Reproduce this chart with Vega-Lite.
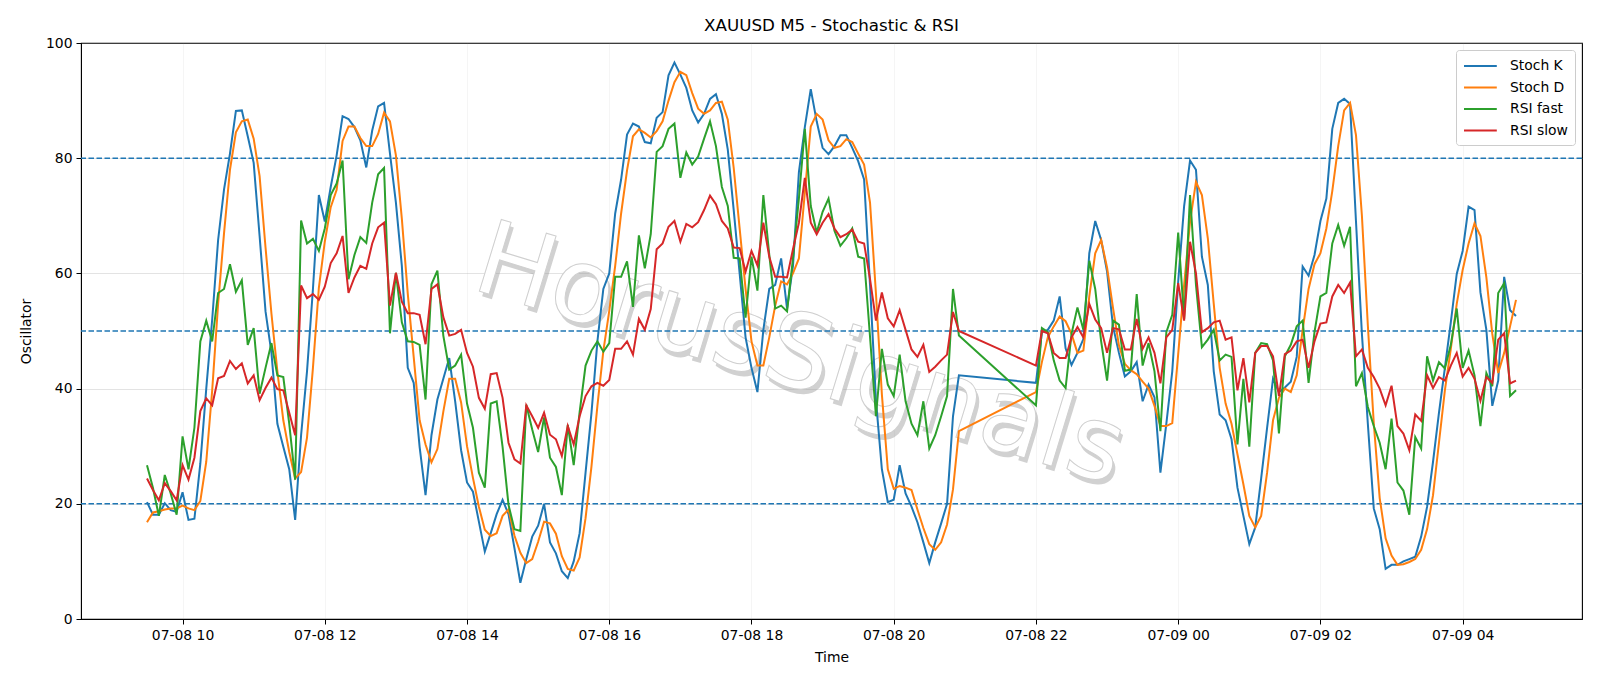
{
  "$schema": "https://vega.github.io/schema/vega-lite/v6.json",
  "width": 1501,
  "height": 576,
  "autosize": {"type": "none"},
  "padding": {"left": 81, "top": 43, "right": 18, "bottom": 67},
  "title": {"text": "XAUUSD M5 - Stochastic & RSI", "fontSize": 16.7, "font": "DejaVu Sans", "fontWeight": "normal", "color": "black", "anchor": "middle", "offset": 1},
  "config": {
    "font": "DejaVu Sans",
    "view": {"stroke": "black", "strokeWidth": 1.1},
    "axis": {"labelFontSize": 13.9, "titleFontSize": 13.9, "labelColor": "black", "titleColor": "black", "titleFontWeight": "normal", "domainColor": "black", "tickColor": "black", "tickSize": 5, "gridColor": "#b0b0b0", "gridOpacity": 0.35, "labelPadding": 4}
  },
  "datasets": {
    "osc": [
      {"t":"2025-07-08T09:30","K":20.3,"D":16.8,"F":26.7,"S":24.4},
      {"t":"2025-07-08T09:35","K":18.1,"D":18.5,"F":22.8,"S":22.4},
      {"t":"2025-07-08T09:40","K":18.1,"D":18.7,"F":17.9,"S":20.6},
      {"t":"2025-07-08T09:45","K":20.1,"D":19.0,"F":25.0,"S":23.6},
      {"t":"2025-07-08T09:50","K":18.9,"D":19.2,"F":21.8,"S":22.2},
      {"t":"2025-07-08T09:55","K":18.6,"D":19.2,"F":18.1,"S":20.6},
      {"t":"2025-07-08T10:00","K":22.0,"D":19.7,"F":31.7,"S":26.7},
      {"t":"2025-07-08T10:05","K":17.2,"D":19.2,"F":26.0,"S":24.2},
      {"t":"2025-07-08T10:10","K":17.4,"D":18.9,"F":33.2,"S":28.0},
      {"t":"2025-07-08T10:15","K":27.0,"D":20.5,"F":48.2,"S":36.1},
      {"t":"2025-07-08T10:20","K":40.0,"D":27.3,"F":51.8,"S":38.3},
      {"t":"2025-07-08T10:25","K":52.0,"D":39.7,"F":48.2,"S":37.1},
      {"t":"2025-07-08T10:30","K":65.8,"D":54.7,"F":56.6,"S":41.8},
      {"t":"2025-07-08T10:35","K":74.6,"D":67.0,"F":57.3,"S":42.2},
      {"t":"2025-07-08T10:40","K":80.8,"D":78.0,"F":61.6,"S":44.8},
      {"t":"2025-07-08T10:45","K":88.2,"D":84.5,"F":56.8,"S":43.4},
      {"t":"2025-07-08T10:50","K":88.3,"D":86.4,"F":58.8,"S":44.4},
      {"t":"2025-07-08T10:55","K":83.8,"D":86.7,"F":47.6,"S":40.9},
      {"t":"2025-07-08T11:00","K":79.2,"D":83.4,"F":50.5,"S":42.3},
      {"t":"2025-07-08T11:05","K":66.5,"D":76.9,"F":39.1,"S":38.0},
      {"t":"2025-07-08T11:10","K":53.4,"D":64.5,"F":43.6,"S":40.1},
      {"t":"2025-07-08T11:15","K":46.2,"D":53.0,"F":47.9,"S":41.9},
      {"t":"2025-07-08T11:20","K":33.9,"D":43.0,"F":42.3,"S":39.9},
      {"t":"2025-07-08T11:25","K":29.9,"D":34.5,"F":42.0,"S":39.7},
      {"t":"2025-07-08T11:30","K":26.0,"D":29.0,"F":33.9,"S":35.8},
      {"t":"2025-07-08T11:35","K":17.2,"D":24.4,"F":24.2,"S":31.9},
      {"t":"2025-07-08T11:40","K":31.9,"D":25.5,"F":69.2,"S":57.9},
      {"t":"2025-07-08T11:45","K":43.0,"D":31.5,"F":65.2,"S":55.7},
      {"t":"2025-07-08T11:50","K":57.3,"D":43.6,"F":66.0,"S":56.4},
      {"t":"2025-07-08T11:55","K":73.6,"D":57.5,"F":63.9,"S":55.4},
      {"t":"2025-07-08T12:00","K":69.0,"D":65.5,"F":67.8,"S":57.7},
      {"t":"2025-07-08T12:05","K":75.0,"D":71.5,"F":73.6,"S":61.8},
      {"t":"2025-07-08T12:10","K":80.5,"D":74.5,"F":75.6,"S":63.5},
      {"t":"2025-07-08T12:15","K":87.3,"D":83.0,"F":79.6,"S":66.5},
      {"t":"2025-07-08T12:20","K":86.8,"D":85.5,"F":59.0,"S":56.6},
      {"t":"2025-07-08T12:25","K":85.4,"D":85.5,"F":63.2,"S":59.3},
      {"t":"2025-07-08T12:30","K":83.1,"D":83.5,"F":66.3,"S":61.3},
      {"t":"2025-07-08T12:35","K":78.4,"D":82.1,"F":65.3,"S":60.8},
      {"t":"2025-07-08T12:40","K":84.8,"D":82.1,"F":72.3,"S":65.2},
      {"t":"2025-07-08T12:45","K":89.0,"D":84.2,"F":77.2,"S":68.0},
      {"t":"2025-07-08T12:50","K":89.6,"D":87.9,"F":78.3,"S":68.8},
      {"t":"2025-07-08T12:55","K":80.8,"D":86.4,"F":49.6,"S":54.4},
      {"t":"2025-07-08T13:00","K":72.3,"D":80.5,"F":60.1,"S":60.1},
      {"t":"2025-07-08T13:05","K":61.3,"D":69.5,"F":51.5,"S":55.1},
      {"t":"2025-07-08T13:10","K":43.6,"D":56.5,"F":48.2,"S":53.1},
      {"t":"2025-07-08T13:15","K":41.0,"D":45.5,"F":48.1,"S":53.1},
      {"t":"2025-07-08T13:20","K":29.9,"D":34.5,"F":47.6,"S":52.8},
      {"t":"2025-07-08T13:25","K":21.5,"D":30.3,"F":38.1,"S":47.7},
      {"t":"2025-07-08T13:30","K":31.9,"D":27.2,"F":58.1,"S":57.3},
      {"t":"2025-07-08T13:35","K":38.1,"D":29.5,"F":60.5,"S":58.1},
      {"t":"2025-07-08T13:40","K":41.7,"D":36.0,"F":49.2,"S":52.4},
      {"t":"2025-07-08T13:45","K":45.3,"D":41.7,"F":43.3,"S":49.2},
      {"t":"2025-07-08T13:50","K":37.8,"D":41.7,"F":44.0,"S":49.5},
      {"t":"2025-07-08T13:55","K":29.3,"D":37.6,"F":45.9,"S":50.2},
      {"t":"2025-07-08T14:00","K":23.7,"D":30.0,"F":37.4,"S":46.2},
      {"t":"2025-07-08T14:05","K":22.1,"D":24.5,"F":33.2,"S":43.8},
      {"t":"2025-07-08T14:10","K":16.9,"D":19.5,"F":25.4,"S":38.4},
      {"t":"2025-07-08T14:15","K":11.7,"D":15.5,"F":22.8,"S":36.5},
      {"t":"2025-07-08T14:20","K":14.9,"D":14.4,"F":37.4,"S":42.5},
      {"t":"2025-07-08T14:25","K":18.2,"D":14.9,"F":37.8,"S":42.7},
      {"t":"2025-07-08T14:30","K":20.7,"D":17.9,"F":29.9,"S":38.4},
      {"t":"2025-07-08T14:35","K":18.2,"D":19.0,"F":19.8,"S":30.6},
      {"t":"2025-07-08T14:40","K":12.3,"D":14.5,"F":15.6,"S":27.7},
      {"t":"2025-07-08T14:45","K":6.3,"D":11.5,"F":15.3,"S":27.0},
      {"t":"2025-07-08T14:50","K":10.4,"D":9.7,"F":37.2,"S":37.1},
      {"t":"2025-07-08T14:55","K":14.3,"D":10.4,"F":32.9,"S":35.2},
      {"t":"2025-07-08T15:00","K":16.2,"D":13.4,"F":29.0,"S":33.2},
      {"t":"2025-07-08T15:05","K":20.0,"D":16.9,"F":35.0,"S":35.8},
      {"t":"2025-07-08T15:10","K":13.3,"D":16.6,"F":28.0,"S":32.0},
      {"t":"2025-07-08T15:15","K":11.4,"D":14.8,"F":26.4,"S":31.2},
      {"t":"2025-07-08T15:20","K":8.3,"D":10.9,"F":21.5,"S":28.3},
      {"t":"2025-07-08T15:25","K":7.1,"D":8.7,"F":33.7,"S":33.5},
      {"t":"2025-07-08T15:30","K":10.0,"D":8.4,"F":26.7,"S":30.3},
      {"t":"2025-07-08T15:35","K":14.9,"D":10.7,"F":35.9,"S":35.2},
      {"t":"2025-07-08T15:40","K":25.4,"D":17.5,"F":44.0,"S":38.7},
      {"t":"2025-07-08T15:45","K":35.8,"D":26.5,"F":46.6,"S":40.4},
      {"t":"2025-07-08T15:50","K":48.2,"D":37.0,"F":48.2,"S":41.0},
      {"t":"2025-07-08T15:55","K":57.3,"D":46.5,"F":46.4,"S":40.5},
      {"t":"2025-07-08T16:00","K":60.0,"D":53.5,"F":47.9,"S":41.5},
      {"t":"2025-07-08T16:05","K":70.4,"D":61.3,"F":59.4,"S":46.9},
      {"t":"2025-07-08T16:10","K":76.3,"D":70.4,"F":59.4,"S":46.9},
      {"t":"2025-07-08T16:15","K":84.1,"D":77.9,"F":62.1,"S":48.2},
      {"t":"2025-07-08T16:20","K":86.0,"D":83.8,"F":54.2,"S":45.9},
      {"t":"2025-07-08T16:25","K":85.5,"D":85.0,"F":66.6,"S":52.1},
      {"t":"2025-07-08T16:30","K":82.8,"D":84.4,"F":60.9,"S":50.2},
      {"t":"2025-07-08T16:35","K":82.6,"D":83.6,"F":66.8,"S":53.8},
      {"t":"2025-07-08T16:40","K":87.0,"D":84.7,"F":81.1,"S":64.2},
      {"t":"2025-07-08T16:45","K":88.0,"D":86.4,"F":82.1,"S":65.2},
      {"t":"2025-07-08T16:50","K":94.4,"D":90.0,"F":85.1,"S":68.1},
      {"t":"2025-07-08T16:55","K":96.6,"D":93.2,"F":86.0,"S":69.1},
      {"t":"2025-07-08T17:00","K":94.5,"D":95.0,"F":76.6,"S":65.5},
      {"t":"2025-07-08T17:05","K":92.2,"D":94.4,"F":81.0,"S":68.6},
      {"t":"2025-07-08T17:10","K":88.3,"D":91.3,"F":78.9,"S":68.0},
      {"t":"2025-07-08T17:15","K":86.2,"D":88.6,"F":80.3,"S":68.9},
      {"t":"2025-07-08T17:20","K":87.7,"D":87.7,"F":83.4,"S":71.0},
      {"t":"2025-07-08T17:25","K":90.3,"D":88.3,"F":86.4,"S":73.5},
      {"t":"2025-07-08T17:30","K":91.1,"D":89.6,"F":82.1,"S":72.0},
      {"t":"2025-07-08T17:35","K":87.7,"D":89.8,"F":75.0,"S":69.1},
      {"t":"2025-07-08T17:40","K":81.5,"D":86.7,"F":71.7,"S":67.8},
      {"t":"2025-07-08T17:45","K":71.0,"D":78.3,"F":62.7,"S":64.5},
      {"t":"2025-07-08T17:50","K":60.0,"D":67.8,"F":62.6,"S":64.4},
      {"t":"2025-07-08T17:55","K":48.9,"D":57.3,"F":52.3,"S":60.3},
      {"t":"2025-07-08T18:00","K":43.6,"D":48.2,"F":62.9,"S":63.9},
      {"t":"2025-07-08T18:05","K":39.4,"D":44.0,"F":57.0,"S":61.4},
      {"t":"2025-07-08T18:10","K":50.2,"D":44.0,"F":73.6,"S":68.8},
      {"t":"2025-07-08T18:15","K":57.3,"D":48.9,"F":63.2,"S":62.9},
      {"t":"2025-07-08T18:20","K":58.0,"D":54.4,"F":53.9,"S":59.4},
      {"t":"2025-07-08T18:25","K":62.6,"D":58.6,"F":54.4,"S":59.4},
      {"t":"2025-07-08T18:30","K":53.9,"D":58.1,"F":53.4,"S":59.3},
      {"t":"2025-07-08T18:35","K":61.3,"D":60.0,"F":62.6,"S":64.2},
      {"t":"2025-07-08T18:40","K":77.6,"D":62.6,"F":73.0,"S":68.8},
      {"t":"2025-07-08T18:45","K":85.4,"D":74.0,"F":85.1,"S":76.6},
      {"t":"2025-07-08T18:50","K":92.0,"D":85.5,"F":71.7,"S":68.8},
      {"t":"2025-07-08T18:55","K":86.4,"D":87.7,"F":67.1,"S":66.8},
      {"t":"2025-07-08T19:00","K":81.8,"D":86.7,"F":70.7,"S":68.8},
      {"t":"2025-07-08T19:05","K":80.7,"D":83.1,"F":73.0,"S":70.3},
      {"t":"2025-07-08T19:10","K":82.1,"D":81.8,"F":67.4,"S":67.8},
      {"t":"2025-07-08T19:15","K":84.0,"D":82.1,"F":64.8,"S":66.3},
      {"t":"2025-07-08T19:20","K":84.0,"D":83.3,"F":66.1,"S":66.8},
      {"t":"2025-07-08T19:25","K":81.8,"D":82.8,"F":67.8,"S":67.6},
      {"t":"2025-07-08T19:30","K":79.5,"D":80.8,"F":62.9,"S":65.5},
      {"t":"2025-07-08T19:35","K":76.3,"D":78.9,"F":62.6,"S":65.2},
      {"t":"2025-07-08T19:40","K":58.0,"D":72.3,"F":49.0,"S":59.0},
      {"t":"2025-07-08T19:45","K":38.0,"D":56.5,"F":35.2,"S":51.8},
      {"t":"2025-07-08T19:50","K":26.0,"D":39.0,"F":46.9,"S":56.7},
      {"t":"2025-07-08T19:55","K":20.3,"D":26.0,"F":40.7,"S":52.2},
      {"t":"2025-07-08T20:00","K":20.7,"D":22.6,"F":38.7,"S":50.8},
      {"t":"2025-07-08T20:05","K":26.7,"D":23.1,"F":45.9,"S":53.6},
      {"t":"2025-07-08T20:10","K":21.8,"D":22.8,"F":37.8,"S":50.2},
      {"t":"2025-07-08T20:15","K":19.5,"D":22.4,"F":33.9,"S":46.8},
      {"t":"2025-07-08T20:20","K":16.8,"D":19.0,"F":31.9,"S":45.5},
      {"t":"2025-07-08T20:25","K":13.3,"D":15.8,"F":37.8,"S":47.6},
      {"t":"2025-07-08T20:30","K":9.7,"D":13.0,"F":29.6,"S":42.9},
      {"t":"2025-07-08T20:35","K":13.3,"D":12.0,"F":31.9,"S":43.8},
      {"t":"2025-07-08T20:40","K":16.6,"D":13.3,"F":35.2,"S":44.9},
      {"t":"2025-07-08T20:45","K":20.0,"D":16.4,"F":38.7,"S":45.9},
      {"t":"2025-07-08T20:50","K":35.2,"D":22.5,"F":57.3,"S":53.3},
      {"t":"2025-07-08T20:55","K":42.3,"D":32.6,"F":49.2,"S":50.0},
      {"t":"2025-07-08T22:00","K":41.0,"D":39.4,"F":37.1,"S":44.0},
      {"t":"2025-07-08T22:05","K":49.8,"D":44.6,"F":50.5,"S":50.0},
      {"t":"2025-07-08T22:10","K":50.2,"D":48.9,"F":49.8,"S":49.6},
      {"t":"2025-07-08T22:15","K":51.8,"D":50.8,"F":44.9,"S":46.2},
      {"t":"2025-07-08T22:20","K":56.0,"D":52.5,"F":41.4,"S":45.3},
      {"t":"2025-07-08T22:25","K":47.0,"D":51.7,"F":40.1,"S":45.3},
      {"t":"2025-07-08T22:30","K":44.1,"D":49.5,"F":49.5,"S":48.9},
      {"t":"2025-07-08T22:35","K":46.2,"D":46.2,"F":54.1,"S":50.7},
      {"t":"2025-07-08T22:40","K":48.6,"D":46.6,"F":50.2,"S":48.9},
      {"t":"2025-07-08T22:45","K":63.5,"D":56.0,"F":62.2,"S":54.7},
      {"t":"2025-07-08T22:50","K":69.1,"D":63.5,"F":57.3,"S":52.0},
      {"t":"2025-07-08T22:55","K":65.8,"D":65.8,"F":48.2,"S":50.5},
      {"t":"2025-07-08T23:00","K":60.3,"D":61.0,"F":41.4,"S":46.2},
      {"t":"2025-07-08T23:05","K":50.8,"D":54.0,"F":51.8,"S":50.5},
      {"t":"2025-07-08T23:10","K":46.2,"D":47.5,"F":51.1,"S":50.3},
      {"t":"2025-07-08T23:15","K":42.1,"D":44.3,"F":43.1,"S":46.8},
      {"t":"2025-07-08T23:20","K":43.0,"D":43.2,"F":43.3,"S":46.8},
      {"t":"2025-07-08T23:25","K":44.6,"D":42.5,"F":56.4,"S":52.1},
      {"t":"2025-07-08T23:30","K":37.8,"D":41.2,"F":44.0,"S":46.9},
      {"t":"2025-07-08T23:35","K":40.7,"D":40.0,"F":47.9,"S":48.9},
      {"t":"2025-07-08T23:40","K":38.5,"D":37.0,"F":43.0,"S":46.2},
      {"t":"2025-07-08T23:45","K":25.4,"D":33.5,"F":32.6,"S":40.9},
      {"t":"2025-07-08T23:50","K":33.9,"D":33.5,"F":49.8,"S":48.9},
      {"t":"2025-07-08T23:55","K":43.0,"D":34.0,"F":52.8,"S":50.2},
      {"t":"2025-07-09T00:00","K":58.6,"D":46.0,"F":67.1,"S":58.3},
      {"t":"2025-07-09T00:05","K":71.7,"D":58.0,"F":52.1,"S":51.8},
      {"t":"2025-07-09T00:10","K":79.6,"D":69.0,"F":73.6,"S":65.5},
      {"t":"2025-07-09T00:15","K":78.0,"D":75.9,"F":58.0,"S":60.0},
      {"t":"2025-07-09T00:20","K":62.9,"D":73.6,"F":47.2,"S":49.8},
      {"t":"2025-07-09T00:25","K":58.0,"D":66.1,"F":48.5,"S":50.5},
      {"t":"2025-07-09T00:30","K":43.0,"D":54.7,"F":50.2,"S":51.5},
      {"t":"2025-07-09T00:35","K":35.5,"D":43.6,"F":44.9,"S":51.8},
      {"t":"2025-07-09T00:40","K":34.5,"D":37.4,"F":45.9,"S":48.5},
      {"t":"2025-07-09T00:45","K":31.2,"D":33.9,"F":45.5,"S":48.9},
      {"t":"2025-07-09T00:50","K":22.8,"D":28.6,"F":30.3,"S":39.7},
      {"t":"2025-07-09T00:55","K":17.9,"D":23.4,"F":41.7,"S":45.3},
      {"t":"2025-07-09T01:00","K":13.0,"D":17.9,"F":29.9,"S":37.6},
      {"t":"2025-07-09T01:05","K":15.9,"D":15.9,"F":46.2,"S":46.2},
      {"t":"2025-07-09T01:10","K":24.4,"D":17.9,"F":47.9,"S":47.4},
      {"t":"2025-07-09T01:15","K":33.2,"D":25.4,"F":47.7,"S":47.4},
      {"t":"2025-07-09T01:20","K":41.7,"D":34.5,"F":44.9,"S":45.6},
      {"t":"2025-07-09T01:25","K":39.4,"D":38.4,"F":32.2,"S":38.7},
      {"t":"2025-07-09T01:30","K":40.2,"D":40.0,"F":45.6,"S":46.0},
      {"t":"2025-07-09T01:35","K":41.2,"D":39.4,"F":47.6,"S":46.6},
      {"t":"2025-07-09T01:40","K":45.5,"D":42.3,"F":50.8,"S":48.2},
      {"t":"2025-07-09T01:45","K":61.2,"D":50.2,"F":51.8,"S":48.5},
      {"t":"2025-07-09T01:50","K":59.6,"D":57.3,"F":41.0,"S":43.6},
      {"t":"2025-07-09T01:55","K":63.2,"D":61.6,"F":49.8,"S":48.2},
      {"t":"2025-07-09T02:00","K":69.1,"D":63.5,"F":56.0,"S":51.3},
      {"t":"2025-07-09T02:05","K":73.0,"D":67.8,"F":56.6,"S":51.5},
      {"t":"2025-07-09T02:10","K":85.1,"D":74.3,"F":65.2,"S":56.0},
      {"t":"2025-07-09T02:15","K":89.6,"D":82.1,"F":68.4,"S":58.0},
      {"t":"2025-07-09T02:20","K":90.3,"D":88.3,"F":64.8,"S":56.6},
      {"t":"2025-07-09T02:25","K":89.4,"D":89.6,"F":68.1,"S":58.4},
      {"t":"2025-07-09T02:30","K":69.0,"D":84.0,"F":40.4,"S":45.6},
      {"t":"2025-07-09T02:35","K":49.5,"D":70.0,"F":42.7,"S":46.8},
      {"t":"2025-07-09T02:40","K":33.9,"D":51.0,"F":36.8,"S":43.6},
      {"t":"2025-07-09T02:45","K":19.2,"D":34.0,"F":33.5,"S":42.0},
      {"t":"2025-07-09T02:50","K":15.6,"D":21.0,"F":30.6,"S":40.0},
      {"t":"2025-07-09T02:55","K":8.7,"D":14.0,"F":26.0,"S":37.1},
      {"t":"2025-07-09T03:00","K":9.4,"D":11.0,"F":34.8,"S":40.5},
      {"t":"2025-07-09T03:05","K":9.4,"D":9.4,"F":23.7,"S":33.5},
      {"t":"2025-07-09T03:10","K":10.0,"D":9.5,"F":22.3,"S":32.2},
      {"t":"2025-07-09T03:15","K":10.4,"D":9.9,"F":18.1,"S":29.3},
      {"t":"2025-07-09T03:20","K":10.8,"D":10.4,"F":31.6,"S":35.5},
      {"t":"2025-07-09T03:25","K":14.3,"D":12.0,"F":29.6,"S":34.4},
      {"t":"2025-07-09T03:30","K":19.5,"D":15.6,"F":45.6,"S":42.3},
      {"t":"2025-07-09T03:35","K":27.3,"D":21.5,"F":41.4,"S":40.1},
      {"t":"2025-07-09T03:40","K":35.8,"D":30.6,"F":44.6,"S":42.0},
      {"t":"2025-07-09T03:45","K":43.6,"D":39.7,"F":43.5,"S":41.4},
      {"t":"2025-07-09T03:50","K":51.5,"D":46.9,"F":47.6,"S":44.0},
      {"t":"2025-07-09T03:55","K":59.9,"D":54.7,"F":53.9,"S":46.2},
      {"t":"2025-07-09T04:00","K":63.9,"D":60.6,"F":43.6,"S":42.1},
      {"t":"2025-07-09T04:05","K":71.6,"D":65.2,"F":46.6,"S":43.6},
      {"t":"2025-07-09T04:10","K":71.0,"D":68.7,"F":42.3,"S":41.7},
      {"t":"2025-07-09T04:15","K":56.7,"D":66.5,"F":33.5,"S":37.9},
      {"t":"2025-07-09T04:20","K":50.2,"D":59.3,"F":42.7,"S":42.0},
      {"t":"2025-07-09T04:25","K":37.0,"D":49.5,"F":40.4,"S":41.0},
      {"t":"2025-07-09T04:30","K":41.4,"D":42.7,"F":56.6,"S":48.5},
      {"t":"2025-07-09T04:35","K":59.4,"D":46.2,"F":58.3,"S":49.6},
      {"t":"2025-07-09T04:40","K":53.6,"D":50.8,"F":38.7,"S":40.9},
      {"t":"2025-07-09T04:45","K":52.6,"D":55.4,"F":39.7,"S":41.4}
    ],
    "levels": [{"level": 20}, {"level": 50}, {"level": 80}],
    "wmark": [{"t": "2025-07-08T18:41", "v": 45.5, "label": "HorusSignals"}]
  },
  "layer": [
    {
      "data": {"name": "wmark"},
      "mark": {"type": "text", "fontSize": 103, "angle": 17, "align": "center", "baseline": "middle", "color": "#9a9a9a", "opacity": 0.45, "dx": 4, "dy": 4},
      "encoding": {
        "x": {"field": "t", "type": "temporal"},
        "y": {"field": "v", "type": "quantitative"},
        "text": {"field": "label", "type": "nominal"}
      }
    },
    {
      "data": {"name": "wmark"},
      "mark": {"type": "text", "fontSize": 103, "angle": 17, "align": "center", "baseline": "middle", "color": "#ffffff", "stroke": "#cfcfcf", "strokeWidth": 1},
      "encoding": {
        "x": {"field": "t", "type": "temporal"},
        "y": {"field": "v", "type": "quantitative"},
        "text": {"field": "label", "type": "nominal"}
      }
    },
    {
      "data": {"name": "levels"},
      "mark": {"type": "rule", "color": "#1f77b4", "strokeWidth": 1.4, "strokeDash": [5.5, 2.5]},
      "encoding": {"y": {"field": "level", "type": "quantitative"}}
    },
    {
      "data": {"name": "osc"},
      "transform": [{"fold": ["K", "D", "F", "S"], "as": ["series", "value"]}],
      "mark": {"type": "line", "strokeWidth": 2},
      "encoding": {
        "x": {
          "field": "t", "type": "temporal", "title": "Time",
          "scale": {"nice": false, "padding": 66},
          "axis": {
            "tickCount": 14, "labelOverlap": false, "labelAngle": 0, "titlePadding": 9,
            "labelExpr": "hours(datum.value) % 2 == 0 ? timeFormat(datum.value, '%m-%d %H') : ''",
            "tickOpacity": {"condition": {"test": "hours(datum.value) % 2 == 1", "value": 0}, "value": 1},
            "gridOpacity": {"condition": {"test": "hours(datum.value) % 2 == 1", "value": 0}, "value": 0.35}
          }
        },
        "y": {
          "field": "value", "type": "quantitative", "title": "Oscillator",
          "scale": {"domain": [0, 100], "nice": false},
          "axis": {"values": [0, 20, 40, 60, 80, 100], "titlePadding": 12}
        },
        "color": {
          "field": "series", "type": "nominal",
          "scale": {"domain": ["K", "D", "F", "S"], "range": ["#1f77b4", "#ff7f0e", "#2ca02c", "#d62728"]},
          "legend": {
            "title": null, "orient": "top-right", "offset": 7,
            "labelExpr": "datum.label == 'K' ? 'Stoch K' : datum.label == 'D' ? 'Stoch D' : datum.label == 'F' ? 'RSI fast' : 'RSI slow'",
            "labelFontSize": 13.9, "labelColor": "black",
            "symbolType": "M-1,0H3.1", "symbolSize": 256, "symbolStrokeWidth": 2,
            "padding": 7, "rowPadding": 5.5, "labelOffset": 29,
            "fillColor": "white", "strokeColor": "#cccccc", "cornerRadius": 3
          }
        }
      }
    }
  ]
}
